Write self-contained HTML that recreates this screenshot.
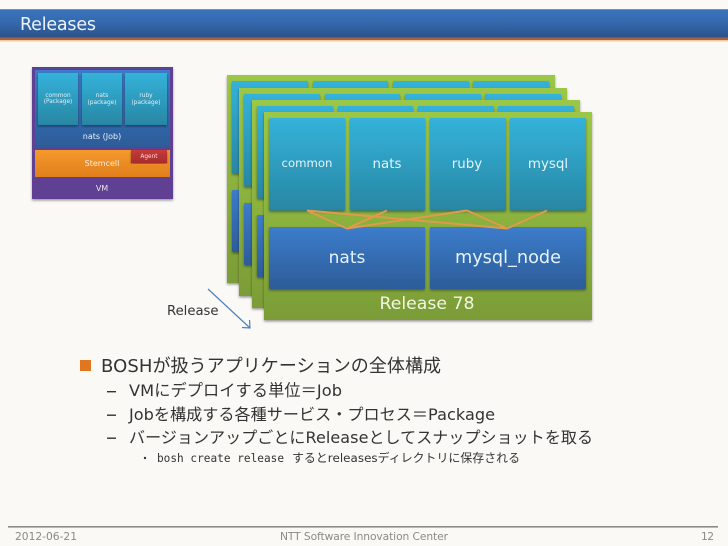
<!DOCTYPE html>
<html><head><meta charset="utf-8"><style>
html,body{margin:0;padding:0;background:#faf9f5;width:728px;height:546px;overflow:hidden}
svg{display:block}
text{font-family:"DejaVu Sans","Noto Sans CJK JP",sans-serif}
</style></head><body>
<svg width="728" height="546" viewBox="0 0 728 546" xmlns="http://www.w3.org/2000/svg">
<defs>
<linearGradient id="hd" x1="0" y1="0" x2="0" y2="1"><stop offset="0" stop-color="#3a73bd"/><stop offset="0.45" stop-color="#3469ad"/><stop offset="1" stop-color="#2b5288"/></linearGradient>
<linearGradient id="gr" x1="0" y1="0" x2="0" y2="1"><stop offset="0" stop-color="#9cc746"/><stop offset="1" stop-color="#7b9c37"/></linearGradient>
<linearGradient id="cy" x1="0" y1="0" x2="0" y2="1"><stop offset="0" stop-color="#34b2da"/><stop offset="1" stop-color="#2886a3"/></linearGradient>
<linearGradient id="bl" x1="0" y1="0" x2="0" y2="1"><stop offset="0" stop-color="#3c7ccb"/><stop offset="1" stop-color="#2d5c98"/></linearGradient>
<linearGradient id="or" x1="0" y1="0" x2="0" y2="1"><stop offset="0" stop-color="#f59a2c"/><stop offset="1" stop-color="#e07f1c"/></linearGradient>
<linearGradient id="rd" x1="0" y1="0" x2="0" y2="1"><stop offset="0" stop-color="#c93a3a"/><stop offset="1" stop-color="#a52c2c"/></linearGradient>
<filter id="sh" x="-5%" y="-5%" width="110%" height="110%"><feDropShadow dx="0" dy="1.5" stdDeviation="1.2" flood-color="#000" flood-opacity="0.4"/></filter>
<g id="card">
<rect x="0" y="0" width="328" height="208" fill="url(#gr)" filter="url(#sh)"/>
<rect x="5" y="6" width="76" height="92.5" rx="1" fill="url(#cy)" filter="url(#sh)"/>
<rect x="86" y="6" width="75" height="92.5" rx="1" fill="url(#cy)" filter="url(#sh)"/>
<rect x="166" y="6" width="76" height="92.5" rx="1" fill="url(#cy)" filter="url(#sh)"/>
<rect x="246" y="6" width="76" height="92.5" rx="1" fill="url(#cy)" filter="url(#sh)"/>
<rect x="5" y="115" width="156" height="62" rx="1" fill="url(#bl)" filter="url(#sh)"/>
<rect x="166" y="115" width="156" height="62" rx="1" fill="url(#bl)" filter="url(#sh)"/>
</g>
</defs>

<!-- header -->
<rect x="0" y="9" width="728" height="1" fill="#8a8f96"/>
<rect x="0" y="10" width="728" height="27.5" fill="url(#hd)"/>
<rect x="0" y="37.5" width="728" height="2.5" fill="#a8623f"/>
<rect x="0" y="40" width="728" height="1.5" fill="#f3c9a4"/>
<text x="20" y="30" font-size="17.5" fill="#eef4fb" textLength="76" lengthAdjust="spacing">Releases</text>

<!-- VM diagram -->
<g filter="url(#sh)"><rect x="32" y="67" width="141" height="132" fill="#5f4192"/></g>
<rect x="35" y="70" width="135" height="77" fill="url(#bl)"/>
<rect x="38" y="73" width="40" height="52" fill="url(#cy)" filter="url(#sh)"/>
<rect x="82" y="73" width="40" height="52" fill="url(#cy)" filter="url(#sh)"/>
<rect x="125" y="73" width="42" height="52" fill="url(#cy)" filter="url(#sh)"/>
<g fill="#e3f1f7" font-size="5.8" text-anchor="middle">
<text x="58" y="97">common</text><text x="58" y="103">(Package)</text>
<text x="102" y="97">nats</text><text x="102" y="104">(package)</text>
<text x="146" y="97">ruby</text><text x="146" y="104">(package)</text>
</g>
<text x="102" y="139" font-size="8" fill="#e8f0f8" text-anchor="middle">nats (Job)</text>
<rect x="35" y="150" width="135" height="27" fill="url(#or)"/>
<text x="102" y="166" font-size="8" fill="#fdeedd" text-anchor="middle">Stemcell</text>
<rect x="131" y="150" width="36" height="13" fill="url(#rd)" filter="url(#sh)"/>
<text x="149" y="158" font-size="5.8" fill="#f8dcdc" text-anchor="middle">Agent</text>
<text x="102" y="191" font-size="8" fill="#e8e2f2" text-anchor="middle">VM</text>

<!-- stacked release cards -->
<use href="#card" x="227" y="75"/>
<use href="#card" x="239" y="88"/>
<use href="#card" x="252" y="100"/>
<use href="#card" x="264" y="112"/>

<g fill="none" stroke="#e09a4c" stroke-width="2" stroke-linejoin="round">
<path d="M307 210.5 L347 228.5 L387 210.5"/>
<path d="M467 210.5 L347 228.5"/>
<path d="M307 210.5 L507 228.5 L467 210.5"/>
<path d="M507 228.5 L547 210.5"/>
</g>

<g fill="#e6f4fa" text-anchor="middle">
<text x="307" y="167" font-size="11.7">common</text>
<text x="387" y="168" font-size="13.4">nats</text>
<text x="467" y="168" font-size="13.4">ruby</text>
<text x="548" y="168" font-size="13.4">mysql</text>
<text x="347" y="263" font-size="17">nats</text>
<text x="508" y="263" font-size="17.7">mysql_node</text>
<text x="427" y="309" font-size="17.3" fill="#f2f7e4">Release 78</text>
</g>

<!-- Release arrow -->
<text x="167" y="315" font-size="13.2" fill="#333">Release</text>
<g fill="none" stroke="#4f81bd" stroke-width="1.2">
<path d="M208 289 L250 328"/>
<path d="M242 327.5 L250 328 L249.5 320"/>
</g>

<!-- body -->
<rect x="80" y="360" width="11" height="11" fill="#e2761e"/>
<g fill="#333">
<text x="101" y="372" font-size="18" textLength="340" lengthAdjust="spacing">BOSHが扱うアプリケーションの全体構成</text>
<rect x="107" y="391" width="9" height="1.4"/>
<rect x="107" y="414.5" width="9" height="1.4"/>
<rect x="107" y="437.5" width="9" height="1.4"/>
<text x="129" y="396" font-size="16.2" textLength="213" lengthAdjust="spacing">VMにデプロイする単位＝Job</text>
<text x="129" y="420" font-size="16.1" textLength="366" lengthAdjust="spacing">Jobを構成する各種サービス・プロセス＝Package</text>
<text x="129" y="443" font-size="16" textLength="464" lengthAdjust="spacing">バージョンアップごとにReleaseとしてスナップショットを取る</text>
<circle cx="145" cy="458" r="1.2"/>
<text x="157" y="462" font-size="11.1" textLength="127" lengthAdjust="spacing" style="font-family:'DejaVu Sans Mono','Liberation Mono',monospace">bosh create release</text>
<text x="292" y="462" font-size="11.9" textLength="228" lengthAdjust="spacing">するとreleasesディレクトリに保存される</text>
</g>

<!-- footer -->
<rect x="8" y="526" width="710" height="1.6" fill="#8b8b85"/>
<g fill="#8a8a86" font-size="10.7">
<text x="15" y="540" textLength="62" lengthAdjust="spacing">2012-06-21</text>
<text x="280" y="540" textLength="168" lengthAdjust="spacing">NTT Software Innovation Center</text>
<text x="701" y="540" textLength="13" lengthAdjust="spacing">12</text>
</g>
</svg>
</body></html>
